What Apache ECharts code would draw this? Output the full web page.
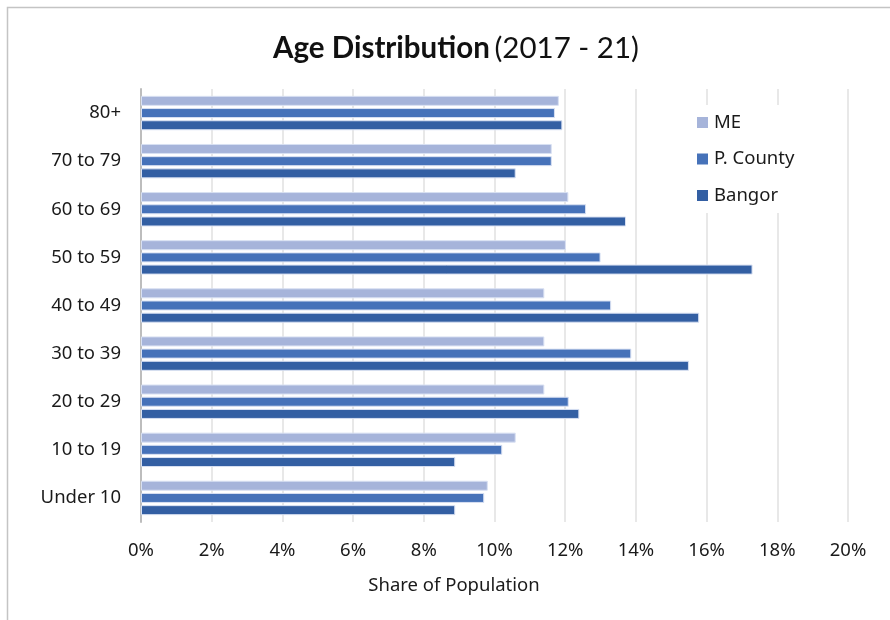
<!DOCTYPE html>
<html>
<head>
<meta charset="utf-8">
<script src="https://cdn.jsdelivr.net/npm/echarts@6/dist/echarts.min.js"></script>
<style>html,body{margin:0;padding:0;background:#fff;}#c{width:890px;height:620px;}</style>
</head>
<body>
<div id="c"></div>
<script>
const categories = ["80+", "70 to 79", "60 to 69", "50 to 59", "40 to 49", "30 to 39", "20 to 29", "10 to 19", "Under 10"];
const seriesNames = ["ME", "P. County", "Bangor"];
const meValues = [11.82, 11.62, 12.09, 12.02, 11.41, 11.41, 11.41, 10.60, 9.81];
const countyValues = [11.71, 11.62, 12.59, 13.00, 13.30, 13.87, 12.10, 10.22, 9.71];
const bangorValues = [11.92, 10.60, 13.72, 17.30, 15.79, 15.50, 12.40, 8.89, 8.89];
const xTicks = [0, 2, 4, 6, 8, 10, 12, 14, 16, 18, 20];
const colors = ["#a6b4da", "#4672b9", "#335fa3"];

const FONT = "'Noto Sans', sans-serif";
const TFONT = "Lato, 'Noto Sans', sans-serif";
const chart = echarts.init(document.getElementById('c'), null, {renderer: 'canvas'});
const values = [meValues, countyValues, bangorValues];

chart.setOption({
  animation: false,
  backgroundColor: '#fff',
  textStyle: {fontFamily: FONT, color: '#1a1a1a'},
  graphic: [{
    type: 'rect',
    shape: {x: 7.5, y: 7.5, width: 1000, height: 1000},
    style: {fill: 'none', stroke: '#c4c4c4', lineWidth: 1.5},
    silent: true
  }],
  title: [{
    text: '{b|Age Distribution} {n|(2017 - 21)}',
    left: 451, textAlign: 'center', top: 28,
    textStyle: {
      rich: {
        b: {fontSize: 29.5, fontWeight: 'bold', fontFamily: TFONT, color: '#111'},
        n: {fontSize: 29.5, fontWeight: 'normal', fontFamily: TFONT, color: '#111'}
      }
    }
  }, {
    text: 'Share of Population',
    left: 449, textAlign: 'center', top: 571,
    textStyle: {fontSize: 18.5, fontWeight: 'normal', fontFamily: FONT, color: '#1a1a1a'}
  }],
  legend: {
    data: seriesNames,
    orient: 'vertical',
    left: 683, top: 105,
    backgroundColor: '#fff',
    padding: [8, 14, 8, 14],
    itemWidth: 11, itemHeight: 11, itemGap: 17.5,
    icon: 'rect',
    itemStyle: {borderWidth: 0},
    textStyle: {fontSize: 18.5, fontFamily: FONT, color: '#1a1a1a', padding: [0, 0, 0, 1]}
  },
  grid: {left: 141, right: 42, top: 89, bottom: 98, containLabel: false},
  xAxis: {
    type: 'value', min: 0, max: 20, interval: 2,
    axisLine: {show: false}, axisTick: {show: false},
    splitLine: {lineStyle: {color: '#e0e0e0', width: 1.5}},
    axisLabel: {formatter: v => v + '%', fontSize: 18.5, margin: 19, color: '#1a1a1a', fontFamily: FONT}
  },
  yAxis: {
    type: 'category', data: categories, inverse: true,
    axisLine: {lineStyle: {color: '#bdbdbd', width: 2}},
    axisTick: {show: false},
    axisLabel: {fontSize: 18.5, margin: 20, color: '#1a1a1a', fontFamily: FONT}
  },
  series: seriesNames.map((n, i) => ({
    name: n, type: 'bar', data: values[i],
    barWidth: 10, barGap: '22%',
    itemStyle: {color: colors[i], borderColor: '#d8e0f2', borderWidth: 1}
  }))
});
</script>
</body>
</html>
